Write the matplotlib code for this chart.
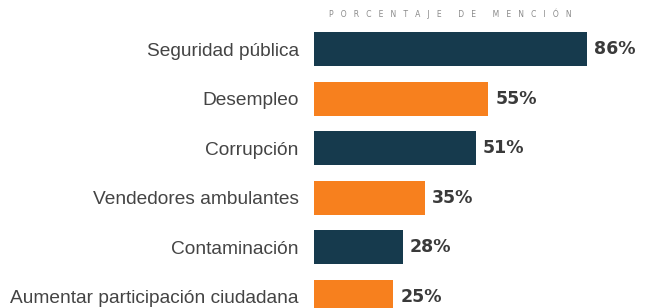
import matplotlib.pyplot as plt

categorias = ['Seguridad pública', 'Desempleo', 'Corrupción', 'Vendedores ambulantes',
              'Contaminación', 'Aumentar participación ciudadana']
valores = [86, 55, 51, 35, 28, 25]
colores = ['#163a4d', '#f7801e', '#163a4d', '#f7801e', '#163a4d', '#f7801e']

plt.rcParams['font.family'] = ['Liberation Sans', 'DejaVu Sans']

fig = plt.figure(figsize=(6.47, 3.08), dpi=100)
ax = fig.add_axes([314 / 647, 0, 333 / 647, 1])
pos = list(range(len(categorias)))
ax.barh(pos, valores, height=0.69, color=colores)
ax.set_xlim(0, 333 / 3.17)
ax.set_ylim(5.23, -1.0)

for p, v in zip(pos, valores):
    ax.text(v + 2.2, p, f'{v}%', va='center', ha='left', fontsize=12.5,
            fontweight='bold', color='#3a3a3a', family=['DejaVu Sans'])

ax.set_yticks(pos)
ax.set_yticklabels(categorias, fontsize=13.8, color='#444444')
ax.tick_params(axis='y', length=0, pad=11)
ax.set_xticks([])
for s in ax.spines.values():
    s.set_visible(False)

titulo = 'PORCENTAJE DE MENCIÓN'
fig.text(450 / 647, 1 - 14 / 308, '   '.join(titulo), ha='center', va='center',
         fontsize=5.5, color='#8a8a8a', family=['DejaVu Sans'])

fig.savefig('out.png', dpi=100)
